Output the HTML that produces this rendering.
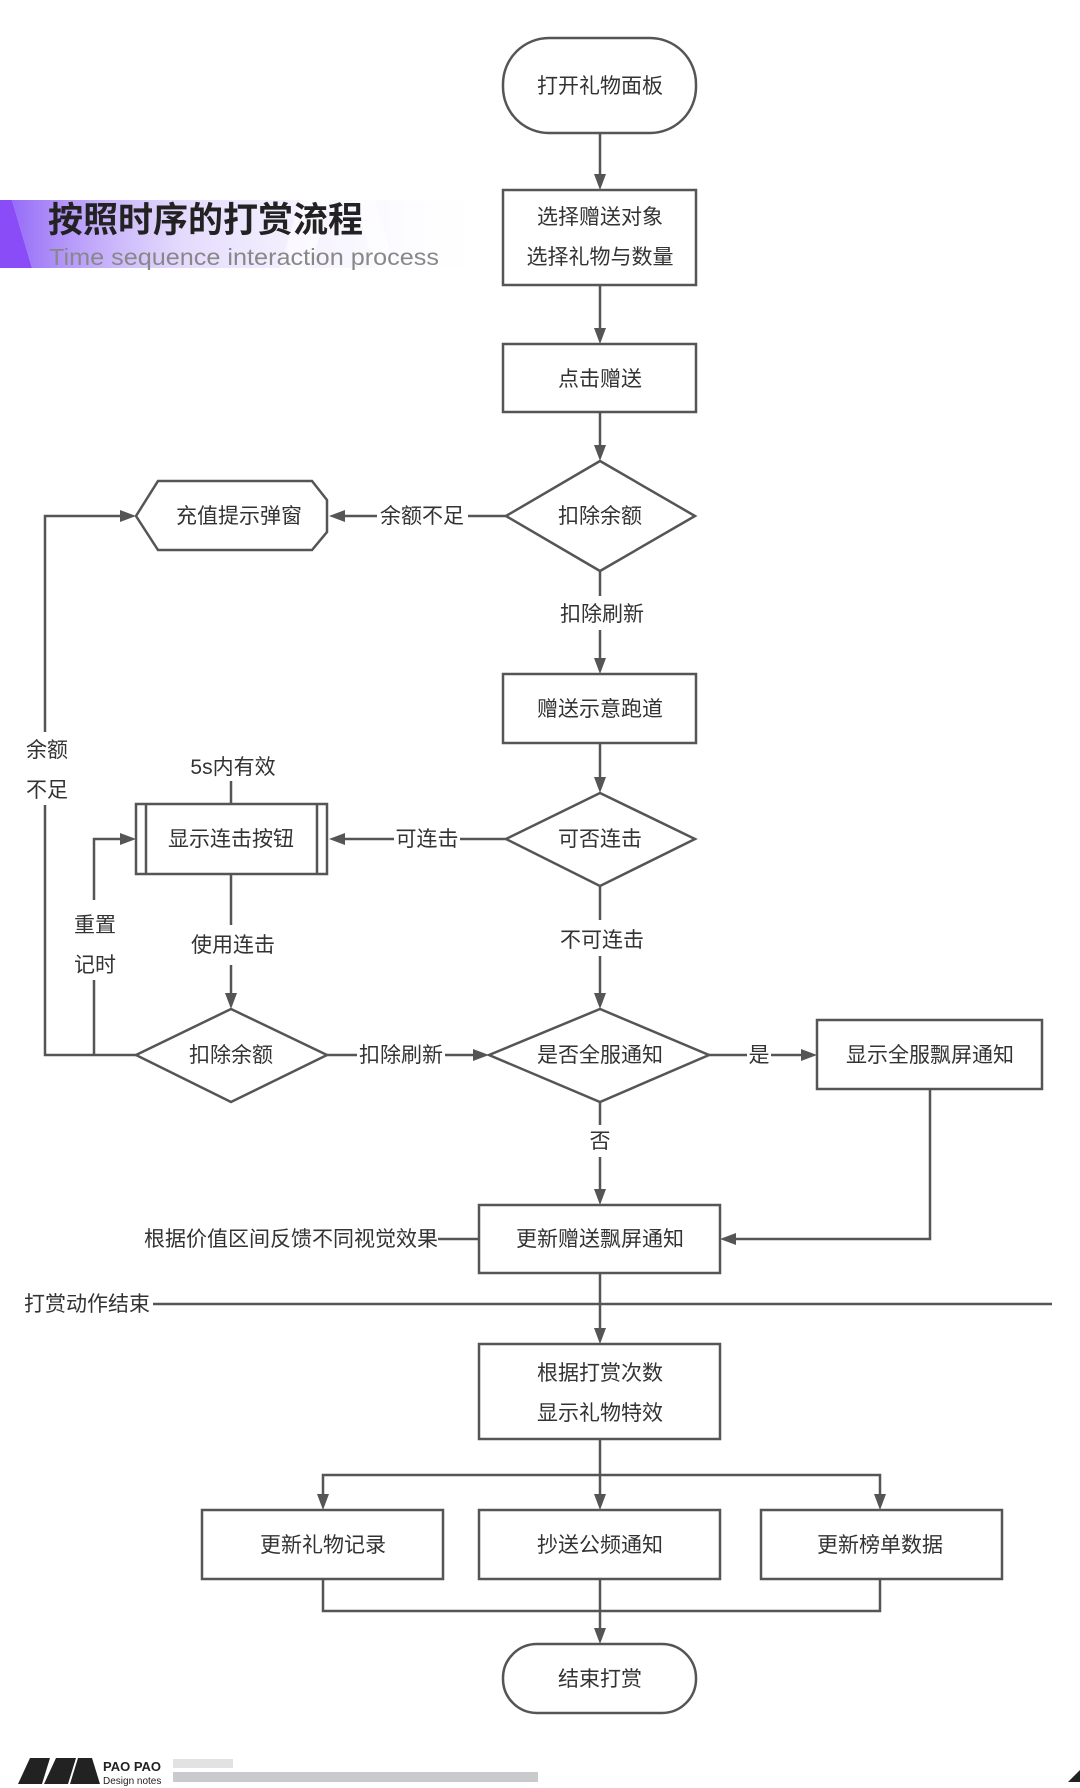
<!DOCTYPE html>
<html><head><meta charset="utf-8"><style>
html,body{margin:0;padding:0;background:#fff;}
svg{display:block;}
text{font-family:"Liberation Sans","Noto Sans CJK SC",sans-serif;fill:#333;}
</style></head><body>
<svg width="1080" height="1788" viewBox="0 0 1080 1788" xmlns="http://www.w3.org/2000/svg">
<defs>
<linearGradient id="band" x1="0" x2="1" y1="0" y2="0">
<stop offset="0" stop-color="#8a5cf6" stop-opacity="0.9"/>
<stop offset="0.35" stop-color="#c9b6fb" stop-opacity="0.5"/>
<stop offset="1" stop-color="#ffffff" stop-opacity="0"/>
</linearGradient>
</defs>
<polygon points="0,200 12,200 32,268 0,268" fill="#8a4cf7"/>
<polygon points="12,200 500,200 500,268 32,268" fill="url(#band)"/>
<polygon points="300,200 330,200 310,268 280,268" fill="#fff" opacity="0.6"/>
<polygon points="355,200 375,200 395,268 375,268" fill="#fff" opacity="0.5"/>
<text x="48" y="232" font-size="35" font-weight="bold" style="fill:#222">按照时序的打赏流程</text>
<text x="49" y="265" font-size="23" textLength="390" lengthAdjust="spacingAndGlyphs" style="fill:#888">Time sequence interaction process</text>

<g fill="none" stroke="#555" stroke-width="2.5">
<rect x="503" y="38" width="193" height="95" rx="46"/>
<rect x="503" y="190" width="193" height="95"/>
<rect x="503" y="344" width="193" height="68"/>
<polygon points="506,516 600,461 695,516 600,571"/>
<polygon points="136,516 158,481 312,481 327,500 327,532 312,550 158,550"/>
<rect x="503" y="674" width="193" height="69"/>
<polygon points="506,839 600,793 695,839 600,886"/>
<rect x="136" y="804" width="191" height="70"/>
<line x1="146" y1="804" x2="146" y2="874"/>
<line x1="317" y1="804" x2="317" y2="874"/>
<polygon points="136,1055 231,1009 327,1055 231,1102"/>
<polygon points="489,1055 600,1009 709,1055 600,1102"/>
<rect x="817" y="1020" width="225" height="69"/>
<rect x="479" y="1205" width="241" height="68"/>
<rect x="479" y="1344" width="241" height="95"/>
<rect x="202" y="1510" width="241" height="69"/>
<rect x="479" y="1510" width="241" height="69"/>
<rect x="761" y="1510" width="241" height="69"/>
<rect x="503" y="1644" width="193" height="69" rx="34"/>
<line x1="600" y1="133" x2="600" y2="182"/>
<line x1="600" y1="285" x2="600" y2="336"/>
<line x1="600" y1="412" x2="600" y2="453"/>
<line x1="506" y1="516" x2="468" y2="516"/>
<line x1="377" y1="516" x2="337" y2="516"/>
<line x1="600" y1="571" x2="600" y2="596"/>
<line x1="600" y1="630" x2="600" y2="666"/>
<line x1="600" y1="743" x2="600" y2="785"/>
<line x1="506" y1="839" x2="460" y2="839"/>
<line x1="394" y1="839" x2="337" y2="839"/>
<line x1="600" y1="886" x2="600" y2="920"/>
<line x1="600" y1="956" x2="600" y2="1001"/>
<line x1="231" y1="781" x2="231" y2="804"/>
<line x1="231" y1="874" x2="231" y2="925"/>
<line x1="231" y1="965" x2="231" y2="1001"/>
<line x1="327" y1="1055" x2="357" y2="1055"/>
<line x1="445" y1="1055" x2="481" y2="1055"/>
<line x1="709" y1="1055" x2="747" y2="1055"/>
<line x1="771" y1="1055" x2="809" y2="1055"/>
<line x1="600" y1="1102" x2="600" y2="1125"/>
<line x1="600" y1="1157" x2="600" y2="1197"/>
<polyline points="930,1089 930,1239 728,1239"/>
<line x1="438" y1="1239" x2="479" y2="1239"/>
<polyline points="136,1055 45,1055 45,805"/>
<polyline points="45,732 45,516 128,516"/>
<polyline points="94,1055 94,980"/>
<polyline points="94,900 94,839 128,839"/>
<line x1="153" y1="1304" x2="1052" y2="1304"/>
<line x1="600" y1="1273" x2="600" y2="1336"/>
<line x1="600" y1="1439" x2="600" y2="1502"/>
<polyline points="323,1502 323,1475 880,1475 880,1502"/>
<polyline points="323,1579 323,1611 880,1611 880,1579"/>
<line x1="600" y1="1579" x2="600" y2="1636"/>
</g>
<g fill="#555">
<polygon points="600,190 594,174 606,174"/>
<polygon points="600,344 594,328 606,328"/>
<polygon points="600,461 594,445 606,445"/>
<polygon points="329,516 345,510 345,522"/>
<polygon points="600,674 594,658 606,658"/>
<polygon points="600,793 594,777 606,777"/>
<polygon points="329,839 345,833 345,845"/>
<polygon points="600,1009 594,993 606,993"/>
<polygon points="231,1009 225,993 237,993"/>
<polygon points="489,1055 473,1049 473,1061"/>
<polygon points="817,1055 801,1049 801,1061"/>
<polygon points="600,1205 594,1189 606,1189"/>
<polygon points="720,1239 736,1233 736,1245"/>
<polygon points="136,516 120,510 120,522"/>
<polygon points="136,839 120,833 120,845"/>
<polygon points="600,1344 594,1328 606,1328"/>
<polygon points="323,1510 317,1494 329,1494"/>
<polygon points="600,1510 594,1494 606,1494"/>
<polygon points="880,1510 874,1494 886,1494"/>
<polygon points="600,1644 594,1628 606,1628"/>
</g>
<g font-size="21" text-anchor="middle">
<text x="600" y="93">打开礼物面板</text>
<text x="600" y="224">选择赠送对象</text>
<text x="600" y="264">选择礼物与数量</text>
<text x="600" y="386">点击赠送</text>
<text x="600" y="523">扣除余额</text>
<text x="239" y="523">充值提示弹窗</text>
<text x="422" y="523">余额不足</text>
<text x="602" y="621">扣除刷新</text>
<text x="600" y="716">赠送示意跑道</text>
<text x="600" y="846">可否连击</text>
<text x="231" y="846">显示连击按钮</text>
<text x="427" y="846">可连击</text>
<text x="233" y="774">5s内有效</text>
<text x="602" y="947">不可连击</text>
<text x="233" y="952">使用连击</text>
<text x="231" y="1062">扣除余额</text>
<text x="401" y="1062">扣除刷新</text>
<text x="600" y="1062">是否全服通知</text>
<text x="759" y="1062">是</text>
<text x="930" y="1062">显示全服飘屏通知</text>
<text x="600" y="1148">否</text>
<text x="600" y="1246">更新赠送飘屏通知</text>
<text x="438" y="1246" text-anchor="end">根据价值区间反馈不同视觉效果</text>
<text x="87" y="1311">打赏动作结束</text>
<text x="600" y="1380">根据打赏次数</text>
<text x="600" y="1420">显示礼物特效</text>
<text x="323" y="1552">更新礼物记录</text>
<text x="600" y="1552">抄送公频通知</text>
<text x="880" y="1552">更新榜单数据</text>
<text x="600" y="1686">结束打赏</text>
<text x="47" y="757">余额</text>
<text x="47" y="797">不足</text>
<text x="95" y="932">重置</text>
<text x="95" y="972">记时</text>
</g>
<polygon points="18,1784 30,1758 50,1758 42,1784" fill="#222"/>
<polygon points="44,1784 56,1758 76,1758 68,1784" fill="#222"/>
<polygon points="70,1784 78,1758 92,1758 100,1784" fill="#222"/>
<text x="103" y="1771" font-size="13" font-weight="bold" style="fill:#222">PAO PAO</text>
<text x="103" y="1784" font-size="10" style="fill:#222">Design notes</text>
<rect x="173" y="1759" width="60" height="9" fill="#e2e2e2"/>
<rect x="173" y="1772" width="365" height="10" fill="#c8cacd"/>
<polygon points="1068,1782 1080,1770 1080,1782" fill="#222"/>
</svg>
</body></html>
